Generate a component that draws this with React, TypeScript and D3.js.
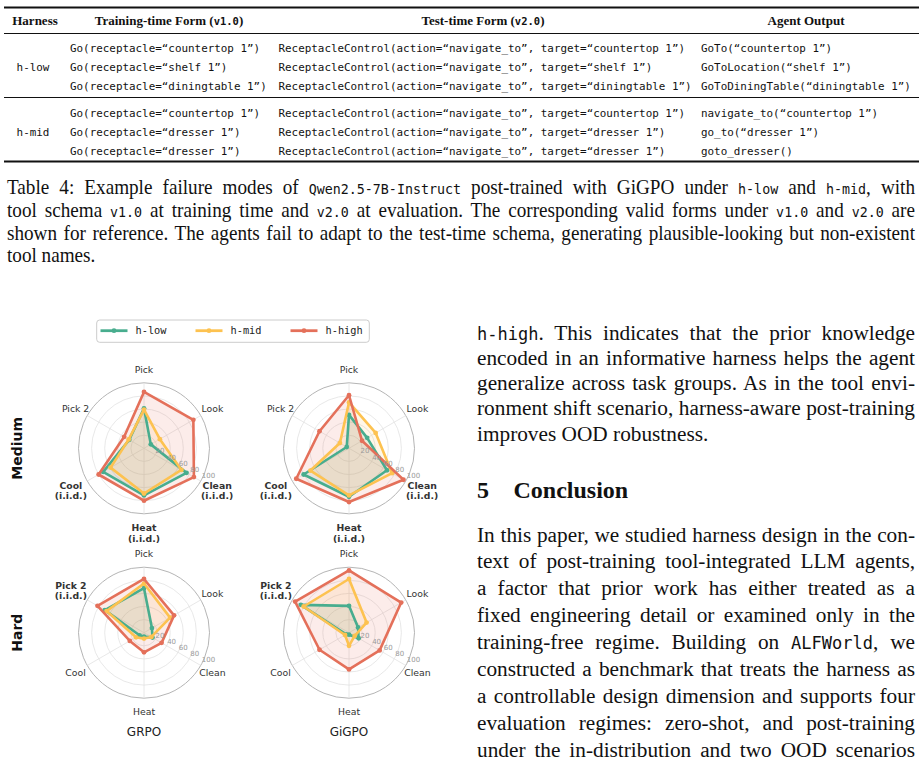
import React, { useRef, useLayoutEffect } from "react";
import * as d3 from "d3";

const MONO = "'DejaVu Sans Mono', monospace";
const SERIF = "'Liberation Serif', 'Times New Roman', serif";
const SANS = "'DejaVu Sans', sans-serif";

// ---------------- table data ----------------
const harnessNames = ["h-low", "h-mid"];
const trainingForms = [
  ["Go(receptacle=“countertop 1”)", "Go(receptacle=“shelf 1”)", "Go(receptacle=“diningtable 1”)"],
  ["Go(receptacle=“countertop 1”)", "Go(receptacle=“dresser 1”)", "Go(receptacle=“dresser 1”)"],
];
const testForms = [
  [
    "ReceptacleControl(action=“navigate_to”, target=“countertop 1”)",
    "ReceptacleControl(action=“navigate_to”, target=“shelf 1”)",
    "ReceptacleControl(action=“navigate_to”, target=“diningtable 1”)",
  ],
  [
    "ReceptacleControl(action=“navigate_to”, target=“countertop 1”)",
    "ReceptacleControl(action=“navigate_to”, target=“dresser 1”)",
    "ReceptacleControl(action=“navigate_to”, target=“dresser 1”)",
  ],
];
const agentOutputs = [
  ["GoTo(“countertop 1”)", "GoToLocation(“shelf 1”)", "GoToDiningTable(“diningtable 1”)"],
  ["navigate_to(“countertop 1”)", "go_to(“dresser 1”)", "goto_dresser()"],
];

// ---------------- radar data ----------------
const radarAxes = ["Pick", "Look", "Clean", "Heat", "Cool", "Pick 2"];
const seriesNames = ["h-low", "h-mid", "h-high"];
const radialTicks = [20, 40, 60, 80, 100];
const rowNames = ["Medium", "Hard"];
const colNames = ["GRPO", "GiGPO"];
const mediumIid = ["Clean", "Heat", "Cool"];
const hardIid = ["Pick 2"];

const mediumGrpoLow = [61, 12, 75, 72, 72, 26];
const mediumGrpoMid = [59, 28, 66, 69, 59, 27];
const mediumGrpoHigh = [86, 87, 88, 80, 80, 35];

const mediumGigpoLow = [51, 32, 67, 74, 80, 4];
const mediumGigpoMid = [70, 47, 76, 72, 68, 16];
const mediumGigpoHigh = [81, 23, 96, 82, 93, 52];

const hardGrpoLow = [68, 14, 15, 6, 8, 69];
const hardGrpoMid = [75, 46, 13, 9, 14, 66];
const hardGrpoHigh = [82, 53, 31, 30, 25, 82];

const hardGigpoLow = [41, 16, 17, 3, 5, 85];
const hardGigpoMid = [82, 31, 10, 20, 7, 80];
const hardGigpoHigh = [95, 92, 54, 56, 52, 95];

const COLORS = ["#48AD8E", "#FDC250", "#E4705A"];

type Part = { t: string; m?: boolean };

const captionLines: Part[][] = [
  [
    { t: "Table 4: Example failure modes of " },
    { t: "Qwen2.5-7B-Instruct", m: true },
    { t: " post-trained with GiGPO under " },
    { t: "h-low", m: true },
    { t: " and " },
    { t: "h-mid", m: true },
    { t: ", with" },
  ],
  [
    { t: "tool schema " },
    { t: "v1.0", m: true },
    { t: " at training time and " },
    { t: "v2.0", m: true },
    { t: " at evaluation. The corresponding valid forms under " },
    { t: "v1.0", m: true },
    { t: " and " },
    { t: "v2.0", m: true },
    { t: " are" },
  ],
  [{ t: "shown for reference. The agents fail to adapt to the test-time schema, generating plausible-looking but non-existent" }],
  [{ t: "tool names." }],
];

const para1: Part[][] = [
  [{ t: "h-high", m: true }, { t: ". This indicates that the prior knowledge" }],
  [{ t: "encoded in an informative harness helps the agent" }],
  [{ t: "generalize across task groups. As in the tool envi-" }],
  [{ t: "ronment shift scenario, harness-aware post-training" }],
  [{ t: "improves OOD robustness." }],
];

const para2: Part[][] = [
  [{ t: "In this paper, we studied harness design in the con-" }],
  [{ t: "text of post-training tool-integrated LLM agents," }],
  [{ t: "a factor that prior work has either treated as a" }],
  [{ t: "fixed engineering detail or examined only in the" }],
  [{ t: "training-free regime. Building on " }, { t: "ALFWorld", m: true }, { t: ", we" }],
  [{ t: "constructed a benchmark that treats the harness as" }],
  [{ t: "a controllable design dimension and supports four" }],
  [{ t: "evaluation regimes: zero-shot, and post-training" }],
  [{ t: "under the in-distribution and two OOD scenarios" }],
];

function TextLine(props: {
  x: number;
  y: number;
  w: number;
  size: number;
  monoSize: number;
  parts: Part[];
  justify: boolean;
}) {
  const { x, y, w, size, monoSize, parts, justify } = props;
  const ref = useRef<SVGTextElement>(null);
  useLayoutEffect(() => {
    const el = ref.current;
    if (!el || !justify) return;
    const natural = el.getComputedTextLength();
    const text = parts.map((p) => p.t).join("");
    const n = (text.match(/ /g) || []).length;
    if (natural < w && n > 0) {
      el.style.wordSpacing = ((w - natural) / n).toFixed(3) + "px";
    } else if (natural > w) {
      el.setAttribute("textLength", String(w));
      el.setAttribute("lengthAdjust", "spacingAndGlyphs");
    }
  }, []);
  return (
    <text ref={ref} x={x} y={y} fontSize={size} fontFamily={SERIF} fill="#111" style={{ whiteSpace: "pre" }}>
      {parts.map((p, i) =>
        p.m ? (
          <tspan key={i} fontFamily={MONO} fontSize={monoSize}>
            {p.t}
          </tspan>
        ) : (
          <tspan key={i}>{p.t}</tspan>
        )
      )}
    </text>
  );
}

const R = 65.5;

function Radar(props: { cx: number; cy: number; data: number[][]; iid: string[] }) {
  const { cx, cy, data, iid } = props;
  const n = radarAxes.length;
  const r = d3.scaleLinear().domain([0, 100]).range([0, R]);
  const ang = (i: number) => (i * 2 * Math.PI) / n;
  const line = d3
    .lineRadial<number>()
    .angle((_, i) => ang(i))
    .radius((d) => r(d))
    .curve(d3.curveLinearClosed);
  const tickAngle = (118 * Math.PI) / 180;
  return (
    <g>
      <g transform={`translate(${cx},${cy})`}>
        {radialTicks.map((t) => (
          <circle
            key={t}
            r={r(t)}
            fill="none"
            stroke={t === 100 ? "#b5b5b5" : "#e2e2e2"}
            strokeWidth={t === 100 ? 1 : 0.8}
          />
        ))}
        {radarAxes.map((a, i) => (
          <line
            key={a}
            x1={0}
            y1={0}
            x2={r(100) * Math.sin(ang(i))}
            y2={-r(100) * Math.cos(ang(i))}
            stroke="#e2e2e2"
            strokeWidth={0.8}
          />
        ))}
        {data.map((vals, s) => (
          <path key={"f" + s} d={line(vals) || ""} fill={COLORS[s]} fillOpacity={0.13} stroke="none" />
        ))}
        {data.map((vals, s) => (
          <g key={"l" + s}>
            <path d={line(vals) || ""} fill="none" stroke={COLORS[s]} strokeWidth={2.6} strokeLinejoin="round" />
            {vals.map((v, i) => (
              <circle key={i} cx={r(v) * Math.sin(ang(i))} cy={-r(v) * Math.cos(ang(i))} r={2.4} fill={COLORS[s]} />
            ))}
          </g>
        ))}
        {radialTicks.map((t) => (
          <text
            key={"t" + t}
            x={r(t) * Math.sin(tickAngle)}
            y={-r(t) * Math.cos(tickAngle) - 1}
            fontSize={7}
            fontFamily={SANS}
            fill="#9a9a9a"
          >
            {t}
          </text>
        ))}
        {radarAxes.map((a, i) => {
          const isIid = iid.includes(a);
          const lines = isIid ? [a, "(i.i.d.)"] : [a];
          const rr = R + 13.5 + (lines.length - 1) * 5.5;
          const px = rr * Math.sin(ang(i));
          const py = -rr * Math.cos(ang(i));
          const lh = 10.5;
          return (
            <text
              key={"a" + a}
              textAnchor="middle"
              fontSize={9.3}
              fontFamily={SANS}
              fontWeight={isIid ? "bold" : "normal"}
              fill="#333"
            >
              {lines.map((l, k) => (
                <tspan key={k} x={px} y={py + (k - (lines.length - 1) / 2) * lh} dominantBaseline="central">
                  {l}
                </tspan>
              ))}
            </text>
          );
        })}
      </g>
    </g>
  );
}

export default function App() {
  const panels = [
    { row: 0, col: 0, data: [mediumGrpoLow, mediumGrpoMid, mediumGrpoHigh], iid: mediumIid },
    { row: 0, col: 1, data: [mediumGigpoLow, mediumGigpoMid, mediumGigpoHigh], iid: mediumIid },
    { row: 1, col: 0, data: [hardGrpoLow, hardGrpoMid, hardGrpoHigh], iid: hardIid },
    { row: 1, col: 1, data: [hardGigpoLow, hardGigpoMid, hardGigpoHigh], iid: hardIid },
  ];
  const cxs = [144, 349];
  const cys = [448.3, 632.7];

  const rowBase = [51.5, 116.5];
  const rowStep = 19.1;
  const cellSize = 10.9;

  const legendX = [100.5, 195.5, 290.5];
  const capScale = 0.9;

  return (
    <svg width={923} height={765} style={{ position: "absolute", left: 0, top: 0, background: "#fff" }}>
      <rect x={0} y={0} width={923} height={765} fill="#fff" />
      {/* ---------- table ---------- */}
      <line x1={4} x2={919} y1={7.5} y2={7.5} stroke="#111" strokeWidth={1.8} />
      <line x1={4} x2={919} y1={33.5} y2={33.5} stroke="#111" strokeWidth={1.1} />
      <line x1={4} x2={919} y1={97.5} y2={97.5} stroke="#111" strokeWidth={1.1} />
      <line x1={4} x2={919} y1={161.5} y2={161.5} stroke="#111" strokeWidth={1.8} />
      <g fontFamily={SERIF} fontWeight="bold" fontSize={13} fill="#111" textAnchor="middle">
        <text x={35} y={24.5}>Harness</text>
        <text x={169} y={24.5} style={{ whiteSpace: "pre" }}>
          Training-time Form (<tspan fontFamily={MONO} fontSize={10.5}>v1.0</tspan>)
        </text>
        <text x={483} y={24.5} style={{ whiteSpace: "pre" }}>
          Test-time Form (<tspan fontFamily={MONO} fontSize={10.5}>v2.0</tspan>)
        </text>
        <text x={806} y={24.5}>Agent Output</text>
      </g>
      <g fontFamily={MONO} fontSize={cellSize} fill="#111" style={{ whiteSpace: "pre" }}>
        {harnessNames.map((h, gi) => (
          <g key={h}>
            <text x={33} y={rowBase[gi] + rowStep} textAnchor="middle">
              {h}
            </text>
            {trainingForms[gi].map((t, k) => (
              <text key={"tr" + k} x={70} y={rowBase[gi] + k * rowStep}>
                {t}
              </text>
            ))}
            {testForms[gi].map((t, k) => (
              <text key={"te" + k} x={278.5} y={rowBase[gi] + k * rowStep}>
                {t}
              </text>
            ))}
            {agentOutputs[gi].map((t, k) => (
              <text key={"ag" + k} x={701} y={rowBase[gi] + k * rowStep}>
                {t}
              </text>
            ))}
          </g>
        ))}
      </g>

      {/* ---------- caption ---------- */}
      <g transform={`translate(7,0) scale(${capScale},1)`}>
        {captionLines.map((parts, i) => (
          <TextLine
            key={"c" + i}
            x={0}
            y={194 + i * 22.8}
            w={908 / capScale}
            size={21.3}
            monoSize={14.8}
            parts={parts}
            justify={i < captionLines.length - 1}
          />
        ))}
      </g>

      {/* ---------- right column ---------- */}
      {para1.map((parts, i) => (
        <TextLine
          key={"p1" + i}
          x={477}
          y={339.5 + i * 25.3}
          w={438}
          size={21.3}
          monoSize={17}
          parts={parts}
          justify={i < para1.length - 1}
        />
      ))}
      <text x={477} y={498} fontFamily={SERIF} fontWeight="bold" fontSize={24} fill="#111">
        5
      </text>
      <text x={513.5} y={498} fontFamily={SERIF} fontWeight="bold" fontSize={24} fill="#111">
        Conclusion
      </text>
      {para2.map((parts, i) => (
        <TextLine
          key={"p2" + i}
          x={477}
          y={541.5 + i * 26.9}
          w={438}
          size={21.3}
          monoSize={17}
          parts={parts}
          justify={true}
        />
      ))}

      {/* ---------- legend ---------- */}
      <rect x={96.7} y={320} width={272.6} height={22.3} rx={3} fill="#fff" stroke="#cccccc" strokeWidth={1} />
      {seriesNames.map((s, i) => (
        <g key={s}>
          <line x1={legendX[i]} x2={legendX[i] + 27} y1={330.7} y2={330.7} stroke={COLORS[i]} strokeWidth={2.8} />
          <circle cx={legendX[i] + 13.5} cy={330.7} r={2.4} fill={COLORS[i]} />
          <text x={legendX[i] + 35} y={334.4} fontFamily={MONO} fontSize={10.3} fill="#222">
            {s}
          </text>
        </g>
      ))}

      {/* ---------- radars ---------- */}
      {panels.map((p, i) => (
        <Radar key={i} cx={cxs[p.col]} cy={cys[p.row]} data={p.data} iid={p.iid} />
      ))}
      {rowNames.map((name, i) => (
        <text
          key={name}
          transform={`translate(17,${cys[i]}) rotate(-90)`}
          textAnchor="middle"
          dominantBaseline="central"
          fontFamily={SANS}
          fontWeight="bold"
          fontSize={14}
          fill="#111"
        >
          {name}
        </text>
      ))}
      {colNames.map((name, i) => (
        <text key={name} x={cxs[i]} y={736} textAnchor="middle" fontFamily={SANS} fontSize={12} fill="#222">
          {name}
        </text>
      ))}
    </svg>
  );
}
